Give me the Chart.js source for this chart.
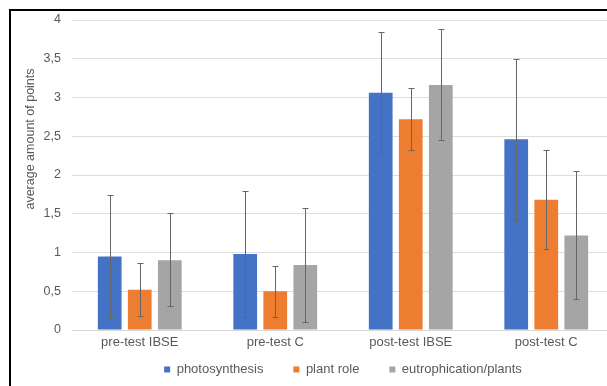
<!DOCTYPE html>
<html>
<head>
<meta charset="utf-8">
<script src="https://cdn.jsdelivr.net/npm/chart.js@4"></script>
<style>
  html, body { margin: 0; padding: 0; background: #fff; overflow: hidden; }
  #wrap { position: absolute; left: 0; top: 0; width: 616px; height: 386px; }
</style>
</head>
<body>
<div id="wrap"><canvas id="chart"></canvas></div>
<script>
const categories = ["pre-test IBSE", "pre-test C", "post-test IBSE", "post-test C"];

const photosynthesis = [0.95, 0.98, 3.06, 2.46];
const photosynthesisHi = [1.74, 1.80, 3.84, 3.50];
const photosynthesisLo = [0.16, 0.17, 2.29, 1.42];

const plantRole = [0.52, 0.50, 2.72, 1.68];
const plantRoleHi = [0.86, 0.83, 3.12, 2.32];
const plantRoleLo = [0.18, 0.17, 2.32, 1.05];

const eutrophication = [0.90, 0.84, 3.16, 1.22];
const eutrophicationHi = [1.51, 1.57, 3.89, 2.05];
const eutrophicationLo = [0.31, 0.10, 2.45, 0.40];

const yTitle = "average amount of points";
const FONT = "'Liberation Sans', Arial, sans-serif";
const TEXT = "#595959";

// error bars: drawn from each dataset's hi/lo arrays through the y scale
const errorBars = {
  id: "errorBars",
  afterDatasetsDraw(chart) {
    const ctx = chart.ctx;
    const y = chart.scales.y;
    ctx.save();
    ctx.strokeStyle = "#666666";
    ctx.lineWidth = 1;
    chart.data.datasets.forEach((ds, di) => {
      const meta = chart.getDatasetMeta(di);
      meta.data.forEach((bar, i) => {
        const x = Math.round(bar.x) + 0.5;
        const top = Math.round(y.getPixelForValue(ds.hi[i])) + 0.5;
        const bot = Math.round(y.getPixelForValue(ds.lo[i])) + 0.5;
        ctx.beginPath();
        ctx.moveTo(x, top); ctx.lineTo(x, bot);
        ctx.moveTo(x - 3, top); ctx.lineTo(x + 3, top);
        ctx.moveTo(x - 3, bot); ctx.lineTo(x + 3, bot);
        ctx.stroke();
      });
    });
    ctx.restore();
  }
};

// frame + y axis title placed like the original
const frame = {
  id: "frame",
  // x labels sit inside the legend's top padding, so widen the label clip box
  afterLayout(chart) {
    chart.scales.x.bottom = chart.height;
  },
  afterDraw(chart) {
    const ctx = chart.ctx;
    ctx.save();
    ctx.fillStyle = "#000";
    ctx.fillRect(9, 9, chart.width, 2);
    ctx.fillRect(9, 9, 2, chart.height);
    ctx.translate(31, 139);
    ctx.rotate(-Math.PI / 2);
    ctx.fillStyle = TEXT;
    ctx.font = "12.5px " + FONT;
    ctx.textAlign = "center";
    ctx.textBaseline = "middle";
    ctx.fillText(yTitle, 0, 0);
    ctx.restore();
  }
};

new Chart(document.getElementById("chart"), {
  type: "bar",
  data: {
    labels: categories,
    datasets: [
      { label: "photosynthesis", data: photosynthesis, hi: photosynthesisHi, lo: photosynthesisLo, backgroundColor: "#4472C4" },
      { label: "plant role", data: plantRole, hi: plantRoleHi, lo: plantRoleLo, backgroundColor: "#ED7D31" },
      { label: "eutrophication/plants", data: eutrophication, hi: eutrophicationHi, lo: eutrophicationLo, backgroundColor: "#A5A5A5" }
    ]
  },
  options: {
    responsive: true,
    maintainAspectRatio: false,
    animation: false,
    categoryPercentage: 0.665,
    barPercentage: 0.79,
    layout: { padding: { top: 20, right: 2, left: 0, bottom: 0 } },
    plugins: {
      tooltip: { enabled: false },
      legend: {
        position: "bottom",
        fullSize: false,
        labels: {
          color: TEXT,
          font: { family: FONT, size: 13 },
          boxWidth: 6,
          boxHeight: 6,
          padding: 30
        }
      }
    },
    scales: {
      x: {
        afterFit: (s) => { s.height = 3; },
        grid: { display: false, drawTicks: false },
        border: { color: "#d9d9d9" },
        ticks: { color: TEXT, font: { family: FONT, size: 13 }, padding: 5 }
      },
      y: {
        min: 0,
        max: 4,
        afterFit: (s) => { s.width = 72; },
        grid: { color: "#dedede", drawTicks: false },
        border: { display: false },
        ticks: {
          stepSize: 0.5,
          padding: 11,
          color: TEXT,
          font: { family: FONT, size: 12.5 },
          callback: (v) => String(v).replace(".", ",")
        }
      }
    }
  },
  plugins: [errorBars, frame]
});
</script>
</body>
</html>
